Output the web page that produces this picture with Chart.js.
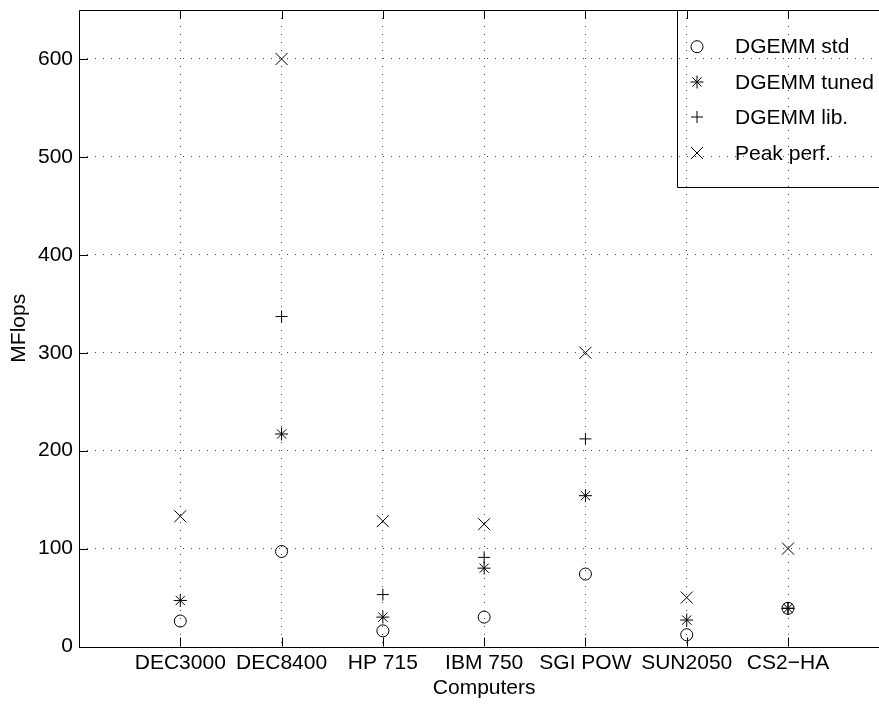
<!DOCTYPE html>
<html lang="en">
<head>
  <meta charset="UTF-8">
  <title>DGEMM MFlops per computer</title>
  <script src="https://cdn.jsdelivr.net/npm/chart.js"></script>
  <style>
    html, body { margin: 0; padding: 0; background: #fff; overflow: hidden; }
    #wrap { width: 879px; height: 704px; overflow: hidden; }
  </style>
</head>
<body>
  <div id="wrap"><canvas id="chart" width="900" height="704"></canvas></div>
  <script>
    // categories and values
    const computers = ["DEC3000", "DEC8400", "HP 715", "IBM 750", "SGI POW", "SUN2050", "CS2\u2212HA"];
    const dgemmStd = [26, 97, 16, 30, 74, 12, 39];
    const dgemmTuned = [47, 217, 30, 80, 154, 27, 39];
    const dgemmLib = [null, 337, 53, 91, 212, null, 39];
    const peakPerf = [133, 600, 128, 125, 300, 50, 100];
    const yTicks = [0, 100, 200, 300, 400, 500, 600];

    const FONT = "'Liberation Sans', Arial, Helvetica, sans-serif";
    const toPoints = vals => vals.map((v, i) => ({ x: i + 1, y: v }));

    const series = [
      { label: "DGEMM std", data: dgemmStd, style: "circle", radius: 6 },
      { label: "DGEMM tuned", data: dgemmTuned, style: "star", radius: 6.5 },
      { label: "DGEMM lib.", data: dgemmLib, style: "cross", radius: 6 },
      { label: "Peak perf.", data: peakPerf, style: "crossRot", radius: 8.5 }
    ];

    // axes box, inward ticks and the boxed legend (matlab look)
    const framePlugin = {
      id: "frame",
      afterDraw(chart) {
        const ctx = chart.ctx;
        const a = chart.chartArea;
        const xs = chart.scales.x, ys = chart.scales.y;
        const tick = 9;
        ctx.save();
        ctx.strokeStyle = "#000";
        ctx.lineWidth = 1;
        ctx.beginPath();
        ctx.rect(Math.round(a.left) + 0.5, Math.round(a.top) + 0.5,
                 Math.round(a.right - a.left), Math.round(a.bottom - a.top));
        xs.ticks.forEach(t => {
          const px = Math.round(xs.getPixelForValue(t.value)) + 0.5;
          ctx.moveTo(px, a.bottom); ctx.lineTo(px, a.bottom - tick);
          ctx.moveTo(px, a.top); ctx.lineTo(px, a.top + tick);
        });
        ys.ticks.forEach(t => {
          const py = Math.round(ys.getPixelForValue(t.value)) + 0.5;
          ctx.moveTo(a.left, py); ctx.lineTo(a.left + tick, py);
          ctx.moveTo(a.right, py); ctx.lineTo(a.right - tick, py);
        });
        ctx.stroke();

        // legend
        const lx = 677.5, ly = Math.round(a.top) + 0.5;
        ctx.beginPath();
        ctx.rect(lx, ly, 260, 177);
        ctx.stroke();
        const rows = [46.7, 82, 117, 153];
        ctx.font = "21px " + FONT;
        ctx.textAlign = "left";
        ctx.textBaseline = "middle";
        series.forEach((s, i) => {
          ctx.fillStyle = "rgba(0,0,0,0)";
          ctx.strokeStyle = "#000";
          Chart.helpers.drawPoint(ctx, { pointStyle: s.style, radius: s.radius, rotation: 0, borderWidth: 1 }, 697, rows[i]);
          ctx.fillStyle = "#000";
          ctx.fillText(s.label, 735, rows[i] + 1);
        });
        ctx.restore();
      }
    };

    new Chart(document.getElementById("chart"), {
      type: "scatter",
      data: {
        datasets: series.map(s => ({
          label: s.label,
          data: toPoints(s.data),
          pointStyle: s.style,
          pointRadius: s.radius,
          pointHoverRadius: s.radius,
          pointBorderWidth: 1,
          borderColor: "#000",
          backgroundColor: "rgba(0,0,0,0)",
          showLine: false
        }))
      },
      options: {
        responsive: false,
        animation: false,
        devicePixelRatio: 1,
        layout: { padding: { top: 10, right: 10.7, left: 0, bottom: 0 } },
        plugins: { legend: { display: false }, tooltip: { enabled: false } },
        scales: {
          x: {
            type: "linear",
            min: 0,
            max: 8,
            afterBuildTicks: scale => { scale.ticks = computers.map((c, i) => ({ value: i + 1 })); },
            afterFit: scale => { scale.height = 57.5; scale.paddingLeft = 0; scale.paddingRight = 0; },
            ticks: {
              callback: v => computers[v - 1] || "",
              color: "#000",
              font: { family: FONT, size: 21 },
              padding: 4,
              maxRotation: 0,
              autoSkip: false
            },
            grid: { color: "#444", lineWidth: 1, drawTicks: false },
            border: { display: false, dash: [1, 7] },
            title: {
              display: true,
              text: "Computers",
              color: "#000",
              font: { family: FONT, size: 21 },
              padding: { top: 0, bottom: 3.4 }
            }
          },
          y: {
            min: 0,
            max: 650,
            afterBuildTicks: scale => { scale.ticks = yTicks.map(v => ({ value: v })); },
            afterFit: scale => { scale.width = 79; scale.paddingTop = 0; scale.paddingBottom = 0; },
            ticks: {
              color: "#000",
              font: { family: FONT, size: 21 },
              padding: 6
            },
            grid: {
              color: ctx => ctx.tick && ctx.tick.value === 0 ? "rgba(0,0,0,0)" : "#444",
              lineWidth: 1,
              drawTicks: false
            },
            border: { display: false, dash: [1, 7] },
            title: {
              display: true,
              text: "MFlops",
              color: "#000",
              font: { family: FONT, size: 21 },
              padding: { top: 7, bottom: 0 }
            }
          }
        }
      },
      plugins: [framePlugin]
    });
  </script>
</body>
</html>
